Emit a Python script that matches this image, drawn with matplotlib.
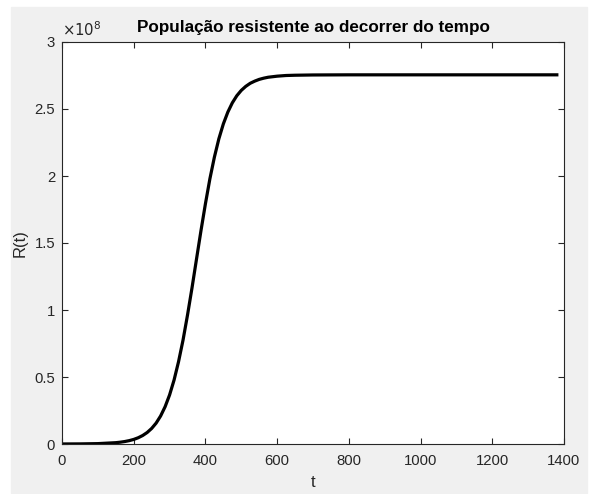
import matplotlib.pyplot as plt
from matplotlib.patches import Rectangle
import numpy as np

plt.rcParams['font.family'] = ['Liberation Sans', 'DejaVu Sans']

# values (R in units of 1e8)
t = [0, 50, 100, 150, 162.5, 175, 187.5, 200, 212.5, 225, 237.5, 250, 262.5,
     275, 287.5, 300, 312.5, 325, 337.5, 350, 362.5, 375, 387.5, 400, 412.5,
     425, 437.5, 450, 462.5, 475, 487.5, 500, 512.5, 525, 537.5, 550, 562.5,
     575, 600, 625, 650, 700, 800, 1000, 1200, 1380]
r = [0.0002, 0.0008, 0.0028, 0.0099, 0.0135, 0.0184, 0.0251, 0.0341, 0.0466,
     0.0634, 0.0858, 0.116, 0.156, 0.209, 0.278, 0.366, 0.477, 0.614, 0.775,
     0.962, 1.164, 1.378, 1.591, 1.793, 1.980, 2.141, 2.278, 2.389, 2.477,
     2.546, 2.599, 2.639, 2.669, 2.692, 2.708, 2.721, 2.730, 2.737, 2.745,
     2.750, 2.752, 2.754, 2.755, 2.755, 2.755, 2.755]
scale = 1e8
xticks = [0, 200, 400, 600, 800, 1000, 1200, 1400]
yticks = [0, 0.5, 1, 1.5, 2, 2.5, 3]
ylabels = ['0', '0.5', '1', '1.5', '2', '2.5', '3']

W, H = 592, 494
fig = plt.figure(figsize=(W / 100, H / 100), dpi=100, facecolor='white')
fig.patches.append(Rectangle((11 / W, 1 - 493 / H), (587 - 11) / W, (493 - 7) / H,
                             transform=fig.transFigure, color='#f0f0f0', zorder=-1))

ax = fig.add_axes([62 / W, 1 - 444 / H, (564 - 62) / W, (444 - 42) / H])
ax.plot(t, np.array(r) * scale, color='black', lw=2.3, solid_joinstyle='round')

ax.set_xlim(0, 1400)
ax.set_ylim(0, 3 * scale)
ax.set_xticks(xticks)
ax.set_yticks(np.array(yticks) * scale)
ax.set_yticklabels(ylabels)

ax.tick_params(direction='in', top=True, right=True, length=4, width=0.8,
               colors='#262626', labelsize=10.7)
ax.tick_params(axis='x', pad=7)
ax.tick_params(axis='y', pad=5)
for s in ax.spines.values():
    s.set_color('#262626')
    s.set_linewidth(0.8)

ax.set_title('População resistente ao decorrer do tempo', fontsize=12.3,
             fontweight='bold', color='black', pad=7)
ax.set_xlabel('t', fontsize=12, color='#262626', labelpad=5)
ax.set_ylabel('R(t)', fontsize=12, color='#262626', labelpad=5)
ax.text(0.0, 1.008, r'$\times10^{8}$', transform=ax.transAxes, fontsize=10.7,
        color='#262626', ha='left', va='bottom')

fig.savefig('out.png', dpi=100, facecolor=fig.get_facecolor())
